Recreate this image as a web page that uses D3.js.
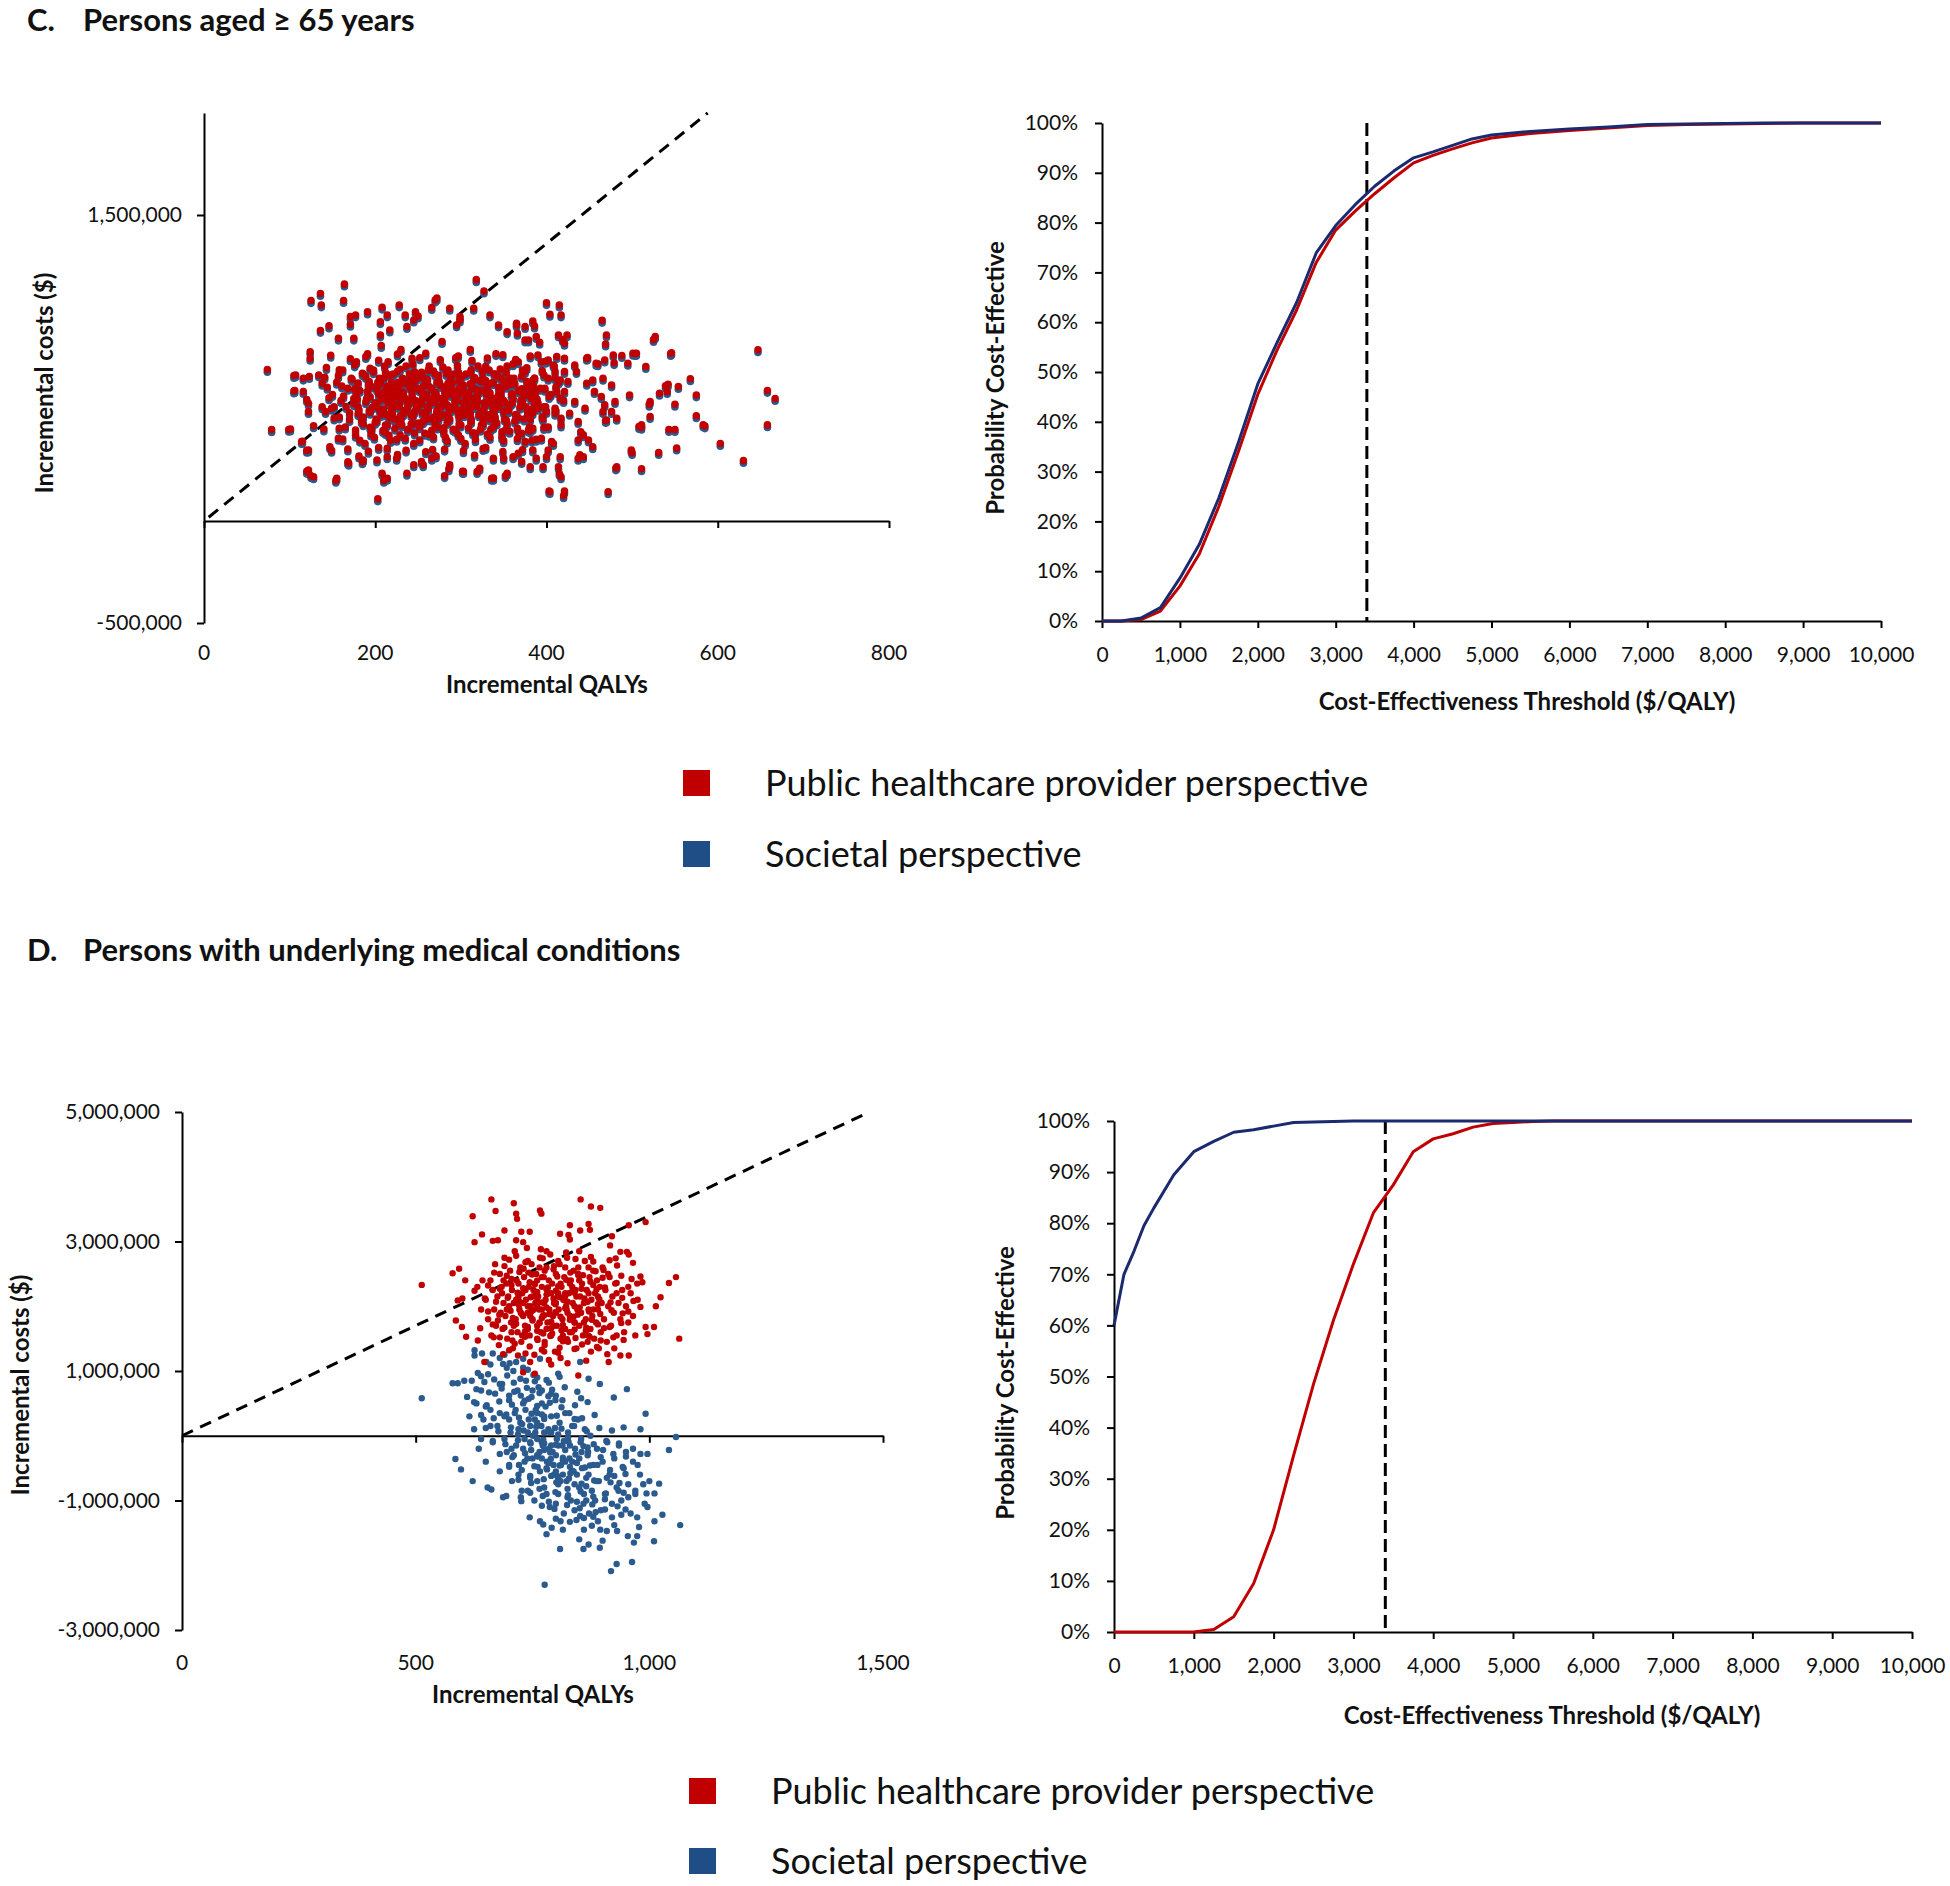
<!DOCTYPE html>
<html><head><meta charset="utf-8">
<script src="https://cdn.jsdelivr.net/npm/d3@7"></script>
<style>
body{margin:0;background:#fff}
svg{display:block}
text{font-family:Lato,'Open Sans',sans-serif;fill:#111}
</style>
</head><body>
<svg id="chart" width="1950" height="1886"></svg>
<script>
// ---------------- DATA ----------------
const wtpThreshold = 3400;
const seriesNames = ["Public healthcare provider perspective", "Societal perspective"];
const panelTitles = [["C.", "Persons aged \u2265 65 years"], ["D.", "Persons with underlying medical conditions"]];

// Panel C scatter: [incremental QALYs, public cost ($000), societal cost ($000)]
const cScatter = [
[74,742,729],[79,448,434],[99,448,436],[105,713,700],[106,640,626],[115,391,378],[120,346,333],[120,244,230],[125,222,209],[120,595,582],[123,708,695],[125,1081,1067],[136,1115,1102],[136,934,921],[146,957,943],[154,199,186],[149,346,333],[164,1161,1148],[163,1081,1068],[168,290,276],[171,1002,989],[185,290,277],[191,1025,1011],[203,109,95],[208,1048,1035],[210,199,186],[228,1059,1046],[247,1025,1012],[272,1093,1079],[281,222,209],[286,256,243],[302,244,230],[318,1183,1169],[327,1127,1114],[299,1002,989],[338,210,196],[352,222,209],[384,980,967],[400,1070,1057],[415,1059,1045],[419,889,876],[403,147,134],[420,124,110],[415,233,220],[439,324,311],[440,437,424],[465,984,970],[469,867,854],[472,143,130],[469,493,480],[479,776,763],[481,260,247],[500,335,322],[504,821,808],[497,618,605],[511,256,243],[511,459,446],[520,572,559],[525,889,876],[531,335,322],[539,663,650],[545,821,808],[543,448,435],[550,448,435],[552,357,344],[550,572,559],[568,697,684],[575,618,605],[575,516,503],[583,471,458],[603,380,367],[630,296,283],[647,839,826],[658,640,627],[658,471,458],[667,600,587],
[417,1010,997],[404,1013,1000],[470,912,899],[527,904,891],[546,825,812],[585,466,453],[499,348,335],[482,266,253],[421,147,134],[404,144,131],[542,670,657],[554,659,646],[521,585,572],[521,512,499],[511,472,459],[508,463,450],[495,773,760],[501,822,809],[505,822,809],[488,811,798],[478,814,801],[468,789,776],[460,770,757],[448,801,788],[516,757,744],[541,634,621],[532,626,613],
[365,969,956],[366,920,907],[375,953,940],[375,887,874],[379,887,874],[386,956,943],[388,904,891],[392,876,863],[367,781,768],[390,814,801],[394,781,768],[402,789,776],[408,765,752],[414,912,899],[424,912,899],[421,871,858],[421,797,784],[410,732,719],[421,732,719],[433,765,752],[435,732,719],[447,797,784],[458,773,760],[425,683,670],[416,691,678],[402,699,686],[386,699,686],[375,732,719],[369,634,621],[381,626,613],[386,642,629],[398,650,637],[412,634,621],[421,634,621],[433,585,572],[445,552,539],[447,675,662],[454,691,678],[456,634,621],[466,699,686],[476,667,654],[464,610,597],[468,569,556],[466,536,523],[476,536,523],[480,585,572],[482,503,490],[470,495,482],[371,569,556],[381,536,523],[390,552,539],[400,536,523],[410,528,515],[417,503,490],[427,528,515],[437,487,474],[443,422,409],[437,397,384],[449,397,384],[454,364,351],[443,315,302],[437,307,294],[416,315,302],[414,266,253],[417,217,204],[400,315,302],[402,348,335],[406,389,376],[394,405,392],[384,454,441],[379,446,433],[371,430,417],[375,389,376],[384,348,335],[388,307,294],[381,266,253],[396,266,253],[367,332,319],[371,291,278],
[137,1059,1046],[270,1083,1070],[266,1046,1033],[287,1043,1030],[315,1043,1030],[214,1010,997],[235,1010,997],[250,1005,992],[177,1010,997],[171,964,951],[206,977,964],[206,912,899],[217,936,923],[237,953,940],[245,985,972],[299,985,972],[295,961,948],[334,1010,997],[344,961,948],[354,928,915],[365,961,948],[157,896,883],[175,896,883],[124,830,817],[124,797,784],[107,716,703],[116,700,687],[105,637,624],[116,634,621],[134,716,703],[138,675,662],[122,577,564],[122,536,523],[138,560,547],[142,536,523],[101,451,438],[128,467,454],[140,451,438],[114,389,376],[122,348,335],[147,364,351],[157,405,392],[122,250,237],[128,217,204],[155,209,196],[169,283,270],[186,299,286],[202,299,286],[214,315,302],[208,234,221],[214,209,196],[225,307,294],[237,234,221],[245,275,262],[256,275,262],[254,291,278],[266,307,294],[287,275,262],[303,242,229],[319,242,229],[322,258,245],[336,209,196],[354,234,221],[350,307,294],[338,307,294],
[150,620,607],[152,560,547],[155,680,667],[158,510,497],[160,590,577],[162,740,727],[165,460,447],[168,650,637],[170,530,517],[172,700,687],[175,600,587],[177,420,407],[178,780,767],[180,560,547],[182,640,627],[184,490,477],[186,720,707],[188,380,367],[190,600,587],[191,820,807],[193,540,527],[195,660,647],[196,450,437],[198,740,727],[200,580,567],[201,500,487],[203,680,667],[204,360,347],[206,620,607],[207,860,847],[209,540,527],[210,700,687],[212,470,457],[213,600,587],[215,780,767],[216,420,407],[218,650,637],[219,550,537],[221,720,707],[222,500,487],[224,610,597],[225,400,387],[227,680,667],[228,560,547],[230,840,827],[231,470,457],[233,630,617],[234,540,527],[236,760,747],[237,590,577],[239,450,437],[240,690,677],[242,520,507],[243,610,597],[245,380,367],[246,730,717],[248,560,547],[249,650,637],[251,480,467],[252,800,787],[254,590,577],[255,530,517],[257,700,687],[258,430,417],[260,620,607],[261,560,547],[263,760,747],[264,500,487],[266,650,637],[267,350,337],[269,590,577],[270,720,707],[272,540,527],[273,460,447],[275,680,667],[276,600,587],[278,880,867],[279,520,507],[281,640,627],[282,410,397],[284,570,557],[285,740,727],[287,500,487],[288,620,607],[290,680,667],[291,450,437],[293,560,547],[294,800,787],[296,610,597],[297,530,517],[299,700,687],[300,470,457],[302,650,637],[303,580,567],[305,380,367],[306,720,707],[308,540,527],[309,630,617],[311,840,827],[312,490,477],[314,600,587],[315,690,677],[317,430,417],[318,560,547],[320,760,747],[321,520,507],[323,640,627],[324,470,457],[326,700,687],[327,580,567],[329,360,347],[330,620,607],[332,520,507],[333,740,727],[335,450,437],[336,600,587],[338,680,667],[339,540,527],[341,820,807],[342,480,467],[344,620,607],[345,560,547],[347,700,687],[348,410,397],[350,590,577],[351,500,487],[353,660,647],[354,760,747],[356,540,527],[357,440,427],[359,620,607],[360,580,567],[362,700,687],[363,490,477],[365,520,507],[367,640,627],[368,430,417],[370,590,577],[372,740,727],[374,500,487],[376,560,547],[378,660,647],[380,460,447],[382,600,587],[384,530,517],[386,700,687],[388,400,387],[390,580,567],[393,650,637],[396,500,487],[399,560,547],[402,460,447],[405,620,607],[408,380,367],[411,540,527],[414,680,667],[417,470,457],[420,590,577],
[205,545,532],[211,635,622],[217,590,577],[223,665,652],[229,515,502],[235,600,587],[241,655,642],[247,590,577],[253,640,627],[259,505,492],[265,580,567],[271,625,612],[277,560,547],[283,660,647],[289,545,532],[295,590,577],[301,625,612],[307,575,562],[313,655,642],[319,600,587],[325,540,527],[331,675,662],[337,565,552],[220,580,567],[232,700,687],[244,475,462],[256,660,647],[268,510,497],[280,600,587],[292,720,707],[304,520,507],[316,580,567],[328,640,627],[340,600,587],[214,520,507],[226,630,617],[238,560,547],[250,700,687],[262,600,587],[274,500,487],[286,560,547],[298,650,637],[310,610,597],[322,690,677],[334,500,487],[346,650,637],[352,580,567],[358,700,687],
[148,812,799],[171,795,782],[189,806,793],[204,788,775],[226,818,805],[243,797,784],[259,822,809],[276,790,777],[297,809,796],[313,786,773],[331,799,786],[349,815,802],[364,792,779],[381,808,795],[399,783,770],[412,806,793],
[143,752,739],[158,741,728],[176,765,752],[194,748,735],[211,759,746],[229,744,731],[244,768,755],[262,739,726],[279,755,742],[296,762,749],[312,741,728],[329,758,745],[346,745,732],[361,770,757],[377,751,738],[395,738,725],[409,760,747],
[141,705,692],[157,712,699],[173,694,681],[189,708,695],[205,699,686],[217,716,703],[232,691,678],[247,707,694],[261,695,682],[274,713,700],[288,698,685],[301,710,697],[316,703,690],[329,689,676],[343,712,699],[357,696,683],[371,709,696],[384,690,677],[397,715,702],[410,702,689],
[144,655,642],[161,662,649],[176,648,635],[192,668,655],[202,646,633],[214,660,647],[227,652,639],[239,667,654],[251,645,632],[263,659,646],[276,664,651],[289,650,637],[303,666,653],[317,647,634],[331,661,648],[344,655,642],[358,669,656],[371,648,635],[385,662,649],[398,645,632],[411,657,644],
[146,604,591],[163,612,599],[179,598,585],[194,609,596],[207,595,582],[219,611,598],[231,601,588],[244,596,583],[256,613,600],[268,603,590],[281,596,583],[293,611,598],[306,599,586],[319,614,601],[333,597,584],[347,608,595],[361,601,588],[374,614,601],[389,597,584],[403,610,597],[416,602,589],
[149,552,539],[166,561,548],[181,545,532],[197,558,545],[210,549,536],[223,563,550],[236,546,533],[249,556,543],[262,548,535],[274,561,548],[287,553,540],[300,545,532],[313,559,546],[327,551,538],[341,564,551],[355,547,534],[369,557,544],[383,549,536],[397,560,547],[410,553,540],
[152,505,492],[170,497,484],[186,510,497],[202,493,480],[217,507,494],[230,499,486],[244,511,498],[258,496,483],[271,506,493],[285,494,481],[298,509,496],[312,501,488],[326,497,484],[340,510,497],[353,495,482],[367,507,494],[381,499,486],[395,511,498],
[158,455,442],[177,446,433],[194,459,446],[209,443,430],[223,455,442],[238,448,435],[252,461,448],[266,445,432],[280,457,444],[294,443,430],[309,456,443],[323,449,436],[338,460,447],[352,446,433],[366,455,442],[381,442,429],[397,458,445],
[162,402,389],[182,396,383],[199,410,397],[218,394,381],[235,405,392],[252,397,384],[268,411,398],[284,392,379],[300,404,391],[317,398,385],[334,409,396],[350,393,380],[366,403,390],[383,396,383],
[168,353,340],[192,342,329],[214,356,343],[236,347,334],[259,339,326],[281,352,339],[303,344,331],[326,355,342],[349,341,328],[372,349,336],
[181,318,305],[226,326,313],[271,318,305],[316,322,309],[361,315,302],
[185,724,711],[198,731,718],[212,727,714],[226,734,721],[240,722,709],[254,729,716],[268,735,722],[283,723,710],[297,730,717],[311,726,713],[325,733,720],[339,721,708],[353,728,715],
[180,676,663],[193,683,670],[206,671,658],[219,680,667],[233,674,661],[246,685,672],[259,672,659],[272,681,668],[285,675,662],[298,686,673],[311,673,660],[324,682,669],[337,677,664],[350,688,675],[363,672,659],[377,684,671],
[178,627,614],[191,634,621],[204,622,609],[218,631,618],[231,625,612],[243,636,623],[256,623,610],[269,632,619],[282,626,613],[295,637,624],[308,624,611],[321,633,620],[334,628,615],[347,636,623],[360,623,610],[373,631,618],[387,626,613],
[175,576,563],[189,584,571],[202,572,559],[215,581,568],[228,575,562],[241,586,573],[254,573,560],[267,582,569],[280,576,563],[293,587,574],[306,574,561],[319,583,570],[332,578,565],[345,585,572],[358,572,559],[372,581,568],[386,576,563],
[180,526,513],[194,533,520],[207,522,509],[220,531,518],[233,525,512],[246,536,523],[259,523,510],[272,532,519],[285,526,513],[298,537,524],[311,524,511],[324,533,520],[337,528,515],[350,535,522],[364,522,509],[378,531,518],
[186,476,463],[200,483,470],[214,472,459],[228,481,468],[242,475,462],[256,486,473],[270,473,460],[284,482,469],[298,476,463],[312,487,474],[326,474,461],[340,483,470],[354,478,465],
[195,426,413],[212,433,420],[229,422,409],[246,431,418],[263,425,412],[280,436,423],[297,423,410],[314,432,419],[331,426,413],[348,437,424]
];

// Panel D scatter: [incremental QALYs, incremental cost ($ millions)]
const dPublic = [
[513,2.33],[662,3.65],[710,3.59],[671,3.47],[622,3.39],[853,3.65],[875,3.54],[895,3.52],[766,3.48],[769,3.43],[715,3.43],[717,3.35],[830,3.25],[852,3.17],[870,3.27],[873,3.18],[992,3.30],[956,3.25],[809,3.12],[726,3.15],[744,3.15],[690,3.17],[642,3.11],[626,2.99],[676,3.02],[665,3.01],[715,3.02],[730,2.99],[830,3.03],[827,3.10],[920,3.08],[916,2.94],[938,2.84],[952,2.84],[956,2.80],[965,2.67],[931,2.63],[593,2.58],[579,2.51],[606,2.40],[643,2.40],[626,2.24],[600,2.12],[590,2.09],[586,1.78],[599,1.68],[608,1.53],[633,1.47],[667,1.52],[687,1.26],[647,1.14],[719,1.24],[730,0.98],[755,0.96],[848,0.93],[913,1.14],[938,1.24],[956,1.24],[996,1.57],[1010,1.68],[992,1.68],[1024,2.14],[1042,2.36],[1057,2.45],[1064,1.50],[1014,2.00],[981,1.99],[981,2.46],[985,2.37],[974,2.35],
[650,2.10],[655,1.80],[660,2.40],[662,1.55],[665,2.25],[668,1.95],[670,2.65],[672,1.70],[675,2.15],[678,1.40],[680,2.50],[682,1.90],[684,2.30],[686,1.65],[688,2.05],[690,2.75],[692,1.85],[694,2.35],[696,1.50],[698,2.15],[700,1.95],[702,2.55],[704,1.75],[706,2.25],[708,1.35],[710,2.05],[712,2.85],[714,1.80],[716,2.40],[718,1.60],[720,2.15],[722,1.95],[724,2.60],[726,1.45],[728,2.20],[730,1.85],[732,2.45],[734,1.70],[736,2.10],[738,2.90],[740,1.90],[742,2.30],[744,1.55],[746,2.00],[748,2.65],[750,1.80],[752,2.25],[754,1.25],[756,2.05],[758,2.50],[760,1.70],[762,2.15],[764,1.95],[766,2.75],[768,1.60],[770,2.30],[772,1.85],[774,2.45],[776,1.40],[778,2.10],[780,2.60],[782,1.75],[784,2.20],[786,1.95],[788,2.80],[790,1.55],[792,2.35],[794,1.85],[796,2.05],[798,1.30],[800,2.50],[802,1.70],[804,2.15],[806,1.95],[808,2.65],[810,1.50],[812,2.30],[814,1.80],[816,2.10],[818,2.45],[820,1.65],[822,2.00],[824,2.75],[826,1.45],[828,2.20],[830,1.85],[832,2.40],[834,1.60],[836,2.05],[838,2.55],[840,1.75],[842,2.25],[844,1.35],[846,1.95],[848,2.60],[850,1.70],[852,2.15],[854,1.90],[856,2.35],[858,1.55],[860,2.05],[862,2.70],[864,1.80],[866,2.25],[868,1.45],[870,1.95],[872,2.45],[874,1.65],[876,2.10],[878,1.85],[880,2.55],[882,1.50],[884,2.20],[886,1.75],[888,2.40],[890,1.95],[892,1.35],[894,2.30],[896,1.60],[898,2.05],[900,2.60],[903,1.80],[906,2.25],[909,1.45],[912,2.00],[915,2.45],[918,1.70],[921,2.15],[924,1.90],[927,2.35],[930,1.55],[934,2.05],[938,1.80],[942,2.25],[946,1.60],[950,2.00],[955,1.75],[960,2.20],[965,1.85],[970,1.55],[975,2.10],
[700,2.00],[710,1.70],[720,2.35],[730,2.05],[740,1.65],[750,2.15],[760,2.40],[770,1.95],[780,1.65],[790,2.20],[800,1.90],[810,2.35],[820,2.20],[830,1.60],[840,2.00],[850,2.40],[860,1.75],[870,2.20],[880,1.95],[890,2.15],[745,1.85],[755,2.35],[765,1.75],[775,2.05],[785,2.40],[795,1.70],[805,2.20],[815,1.55],[825,1.90],[835,2.30],[725,1.90],[735,2.25],[715,2.10],[705,1.60],[695,1.95],[685,2.20],[760,1.50],[775,1.30],[790,1.10],[810,1.20],[765,2.60],[780,2.85],[740,2.70],[820,2.60],[850,2.85],[870,2.60],
[700,2.72],[735,2.68],[772,2.74],[805,2.70],[842,2.73],[880,2.69],[915,2.71],
[668,2.52],[695,2.47],[722,2.53],[749,2.49],[776,2.55],[803,2.46],[831,2.52],[858,2.48],[885,2.54],[912,2.50],[940,2.47],
[655,2.32],[680,2.27],[705,2.33],[730,2.28],[755,2.34],[780,2.26],[805,2.31],[830,2.35],[855,2.27],[880,2.33],[905,2.29],[930,2.36],[955,2.30],
[648,2.12],[672,2.07],[697,2.13],[721,2.08],[746,2.14],[770,2.06],[795,2.12],[819,2.09],[844,2.15],[868,2.07],[893,2.11],[917,2.06],[942,2.13],[966,2.08],
[655,1.92],[679,1.87],[703,1.93],[727,1.88],[751,1.94],[775,1.86],[799,1.91],[823,1.95],[847,1.87],[871,1.92],[895,1.88],[919,1.94],[943,1.89],
[665,1.72],[690,1.67],[715,1.73],[740,1.68],[765,1.74],[790,1.66],[815,1.71],[840,1.75],[865,1.67],[890,1.72],[915,1.68],[940,1.74],
[680,1.52],[707,1.47],[734,1.53],[761,1.48],[788,1.54],[815,1.46],[842,1.51],[869,1.55],[896,1.47],[923,1.52],
[700,1.32],[735,1.27],[770,1.33],[805,1.28],[840,1.34],[875,1.30],[910,1.26],
[745,1.14],[785,1.17],[825,1.12],[865,1.16],
[740,2.00],[760,2.08],[780,1.98],[800,2.05],[820,1.97],[750,1.78],[770,1.82],[790,1.76],[810,1.84],[830,1.79],[760,2.22],[780,2.18],[800,2.24],[820,2.16],[840,2.21],
[705,2.42],[718,2.21],[731,2.58],[744,2.37],[757,2.18],[770,2.45],[783,2.29],[796,2.62],[809,2.14],[822,2.41],[835,2.23],[848,2.48],[861,2.12],[874,2.38],[887,2.26],[900,2.44],
[708,1.82],[721,2.02],[734,1.61],[747,1.92],[760,2.00],[773,1.58],[786,1.88],[799,2.03],[812,1.63],[825,2.07],[838,1.84],[851,1.98],[864,1.62],[877,1.79],[890,2.03],[903,1.66],
[712,1.42],[728,1.55],[744,1.38],[760,1.62],[776,1.45],[792,1.58],[808,1.36],[824,1.49],[840,1.64],[856,1.41],[872,1.53],[888,1.37],
[690,2.62],[715,2.78],[742,2.52],[768,2.88],[795,2.57],[822,2.83],[848,2.50],[875,2.76],[902,2.56],[928,2.74],
[676,1.78],[688,2.40],[955,1.92],[962,2.42],[930,2.20],[945,1.48],[925,1.35],[640,1.95],[632,2.30],[638,1.66]
];
const dSocietal = [
[513,0.58],[579,0.81],[590,0.81],[604,0.85],[626,1.32],[626,1.24],[642,1.27],[651,1.14],[665,1.27],[633,0.97],[647,0.83],[687,1.11],[701,1.12],[715,1.14],[730,1.19],[766,1.19],[805,0.96],[852,1.14],[870,0.88],[894,0.80],[924,0.59],[952,0.72],[992,0.34],[981,0.10],[1057,-0.02],[1042,-0.22],[945,0.13],[585,-0.36],[597,-0.52],[622,-0.70],[654,-0.80],[662,-0.83],[687,-0.95],[694,-0.93],[726,-1.01],[744,-1.26],[773,-1.37],[780,-1.52],[809,-1.75],[776,-2.30],[850,-1.60],[859,-1.75],[870,-1.68],[894,-1.73],[918,-2.09],[930,-1.98],[963,-1.95],[909,-1.47],[931,-1.47],[954,-1.55],[974,-1.55],[967,-1.65],[1010,-1.63],[978,-1.41],[949,-1.14],[974,-1.26],[1011,-1.32],[1028,-1.22],[1066,-1.38],[996,-1.10],[994,-0.89],[1021,-0.74],[1011,-0.89],[981,-0.28],[996,-0.28],[949,-0.59],[987,-0.75],[970,-0.85],[917,-0.72],[895,-1.45],[877,-1.39],[852,-1.24],[810,-1.32],[791,-1.42],[766,-1.32],
[610,0.60],[615,0.30],[620,0.85],[625,0.10],[630,0.50],[635,-0.20],[640,0.70],[645,0.25],[650,-0.40],[655,0.95],[660,0.40],[665,-0.10],[670,0.65],[675,0.15],[680,-0.55],[685,0.80],[690,0.30],[695,-0.25],[700,0.55],[703,0.05],[706,-0.70],[709,1.00],[712,0.35],[715,-0.15],[718,0.70],[721,-0.45],[724,0.20],[727,-0.85],[730,0.50],[733,-0.05],[736,0.85],[739,-0.35],[742,0.25],[745,-0.65],[748,0.60],[751,0.00],[754,-1.00],[757,0.40],[760,-0.30],[763,0.75],[766,-0.55],[769,0.15],[772,-0.15],[775,-0.80],[778,0.45],[781,-0.40],[784,0.10],[787,-1.10],[790,0.30],[793,-0.25],[796,-0.60],[799,0.55],[802,-0.05],[805,-0.90],[808,0.20],[811,-0.45],[814,-0.15],[817,-1.20],[820,0.35],[823,-0.70],[826,0.05],[829,-0.35],[832,-1.00],[835,0.15],[838,-0.55],[841,-0.20],[844,-1.30],[847,0.25],[850,-0.80],[853,-0.10],[856,-0.50],[859,-1.05],[862,0.10],[865,-0.65],[868,-0.30],[871,-1.20],[874,0.00],[877,-0.85],[880,-0.45],[884,-1.00],[888,-0.20],[892,-0.70],[896,-1.15],[900,-0.40],[905,-0.90],[910,-0.10],[915,-0.60],[920,-1.05],[925,-0.35],[930,-0.80],[935,-0.15],[940,-1.00],[945,-0.50],[950,-0.25],[955,-0.75],[960,-1.20],[965,-0.40],[970,-0.90],[980,-0.60],[990,-1.05],[1000,-0.70],
[720,0.10],[730,-0.20],[740,0.05],[750,-0.35],[760,0.20],[770,-0.10],[780,-0.50],[790,0.05],[800,-0.30],[810,-0.70],[820,-0.40],[830,-0.15],[840,-0.75],[850,-0.35],[860,-0.90],[870,-0.60],[735,0.40],[745,-0.10],[755,0.25],[765,-0.25],[775,0.30],[785,-0.20],[795,-0.45],[805,-0.15],[815,-0.60],[825,-0.95],[835,-0.40],[845,-0.60],[855,-0.25],[865,-1.00],[760,-0.70],[780,-0.90],[800,-1.05],[770,0.50],[790,0.65],[750,0.70],[700,0.25],[690,-0.05],[710,-0.30],[680,0.35],[660,0.15],[650,0.45],[640,-0.05],[700,-0.45],[720,-0.60],[740,-0.85],[760,0.90],[730,1.05],[660,1.10],[680,1.20],[690,1.25],
[640,0.92],[668,0.87],[696,0.93],[724,0.88],[752,0.94],[780,0.86],[808,0.91],
[630,0.72],[657,0.67],[684,0.73],[711,0.68],[738,0.74],[765,0.66],[792,0.71],[819,0.75],[846,0.68],
[625,0.52],[652,0.47],[679,0.53],[706,0.48],[733,0.54],[760,0.46],[787,0.51],[814,0.55],[841,0.47],[868,0.52],
[640,0.32],[667,0.27],[694,0.33],[721,0.28],[748,0.34],[775,0.26],[802,0.31],[829,0.35],[856,0.27],[883,0.32],
[650,0.12],[677,0.07],[704,0.13],[731,0.08],[758,0.14],[785,0.06],[812,0.11],[839,0.15],[866,0.07],[893,0.12],[920,0.08],
[665,-0.08],[692,-0.13],[719,-0.07],[746,-0.12],[773,-0.06],[800,-0.14],[827,-0.09],[854,-0.05],[881,-0.13],[908,-0.08],[935,-0.12],
[680,-0.28],[707,-0.33],[734,-0.27],[761,-0.32],[788,-0.26],[815,-0.34],[842,-0.29],[869,-0.25],[896,-0.33],[923,-0.28],[950,-0.32],
[700,-0.48],[727,-0.53],[754,-0.47],[781,-0.52],[808,-0.46],[835,-0.54],[862,-0.49],[889,-0.45],[916,-0.53],[943,-0.48],
[720,-0.68],[747,-0.73],[774,-0.67],[801,-0.72],[828,-0.66],[855,-0.74],[882,-0.69],[909,-0.65],[936,-0.73],
[745,-0.88],[772,-0.93],[799,-0.87],[826,-0.92],[853,-0.86],[880,-0.94],[907,-0.89],[934,-0.85],
[770,-1.08],[797,-1.13],[824,-1.07],[851,-1.12],[878,-1.06],[905,-1.14],[932,-1.09],
[800,-1.28],[830,-1.33],[860,-1.27],[890,-1.32],[920,-1.26],
[760,-0.05],[775,0.05],[790,-0.15],[805,0.02],[820,-0.22],[770,-0.35],[785,-0.42],[800,-0.55],[815,-0.38],[830,-0.48],[745,0.15],[760,0.35],[775,-0.22],[790,-0.62],[805,-0.75],
[700,0.62],[714,0.40],[728,0.18],[742,0.57],[756,0.05],[770,0.33],[784,0.61],[798,0.12],[812,0.44],[826,-0.03],[840,0.26],[854,0.58],[868,-0.18],
[705,-0.20],[719,0.02],[733,-0.40],[747,-0.22],[761,-0.48],[775,-0.12],[789,-0.36],[803,-0.62],[817,-0.08],[831,-0.58],[845,-0.42],[859,-0.16],[873,-0.46],[887,-0.70],[901,-0.22],
[725,-0.95],[745,-0.62],[765,-0.82],[785,-1.02],[805,-0.66],[825,-0.82],[845,-1.02],[865,-0.78],[885,-1.18],[905,-0.98],[925,-0.62],[945,-0.88],
[680,0.80],[695,1.05],[710,0.82],[725,0.62],[740,1.02],[755,0.84],[770,0.70],[785,0.82],[800,0.62],
[815,-1.45],[840,-1.15],[860,-1.45],[880,-1.25],[900,-1.62],[925,-1.38],[940,-1.22],[955,-0.95],[965,-0.20],[975,-0.45]
];

// CEAC data (probability cost-effective, %)
const cThresholds = [0,250,500,750,1000,1250,1500,1750,2000,2250,2500,2750,3000,3250,3500,3750,4000,4250,4500,4750,5000,5500,6000,6500,7000,7500,8000,8500,9000,9500,10000];
const cCeacPublic = [0,0,0.3,2,7,13.5,23,34,45.5,54.5,62.5,72,78.5,82.3,85.8,89,92,93.5,94.8,96,97,97.9,98.5,99,99.5,99.7,99.8,99.9,100,100,100];
const cCeacSocietal = [0,0,0.6,2.7,8.6,15.4,24.7,35.8,47.6,56,64,73.9,79.4,83.6,87.3,90.4,93,94.2,95.5,96.8,97.6,98.3,98.8,99.2,99.7,99.8,99.9,100,100,100,100];
const dThresholds = [0,125,250,375,500,750,1000,1250,1500,1750,2000,2250,2500,2750,3000,3250,3500,3750,4000,4250,4500,4750,5000,5250,5500,6000,7000,8000,9000,10000];
const dCeacPublic = [0,0,0,0,0,0,0,0.5,3,9.5,20,34.5,48.5,61,72,82,87.5,94,96.5,97.5,98.8,99.5,99.7,99.9,100,100,100,100,100,100];
const dCeacSocietal = [60,70,74.5,79.5,83,89.5,94,96,97.8,98.3,99,99.7,99.8,99.9,100,100,100,100,100,100,100,100,100,100,100,100,100,100,100,100];

// Tick values
const cScatterXTicks = [0,200,400,600,800];
const cScatterYTicks = [-500000,1500000];
const dScatterXTicks = [0,500,1000,1500];
const dScatterYTicks = [-3000000,-1000000,1000000,3000000,5000000];
const ceacXTicks = [0,1000,2000,3000,4000,5000,6000,7000,8000,9000,10000];
const ceacYTicks = [0,0.1,0.2,0.3,0.4,0.5,0.6,0.7,0.8,0.9,1.0];

// ---------------- STYLE ----------------
const RED = "#C00000";
const DOT_BLUE = "#2A5A8E";
const LINE_BLUE = "#1B2A6E";
const LEG_BLUE = "#1F4E87";
const TICK_FONT = 21;
const numFmt = v => d3.format(",")(v).replace("\u2212","-");

const svg = d3.select("#chart");
svg.append("rect").attr("width",1950).attr("height",1886).attr("fill","#fff");

function styleAxis(g){
  g.select(".domain").attr("stroke","#000").attr("stroke-width",2);
  g.selectAll(".tick line").attr("stroke","#000").attr("stroke-width",2);
  g.selectAll(".tick text").attr("font-family","Lato,'Open Sans',sans-serif").attr("font-size",TICK_FONT).attr("fill","#111");
}

function rotTitle(x,y,txt){
  svg.append("text").attr("transform",`translate(${x},${y}) rotate(-90)`)
    .attr("text-anchor","middle").attr("dy","0.35em")
    .attr("font-weight","bold").attr("font-size",24)
    .text(txt);
}
function boldTitle(x,y,txt){
  svg.append("text").attr("x",x).attr("y",y).attr("text-anchor","middle")
    .attr("font-weight","bold").attr("font-size",24).text(txt);
}

function scatter(o){
  const x = d3.scaleLinear().domain(o.xDomain).range(o.xRange);
  const y = d3.scaleLinear().domain(o.yDomain).range(o.yRange);
  const g = svg.append("g");
  const xa = g.append("g").attr("transform",`translate(0,${y(0)})`)
    .call(d3.axisBottom(x).tickValues(o.xTicks).tickSize(7).tickSizeOuter(0).tickFormat(""));
  styleAxis(xa);
  g.append("g").selectAll("text").data(o.xTicks).join("text")
    .attr("x",d=>x(d)).attr("y",o.xLabelY).attr("dy","0.35em").attr("text-anchor","middle")
    .attr("font-size",TICK_FONT).text(numFmt);
  const ya = g.append("g").attr("transform",`translate(${x(0)},0)`)
    .call(d3.axisLeft(y).tickValues(o.yTicks).tickSize(7).tickSizeOuter(0).tickPadding(15).tickFormat(numFmt));
  styleAxis(ya);
  const yMax = o.yDomain[1];
  g.append("line").attr("x1",x(0)).attr("y1",y(0)).attr("x2",x(yMax/wtpThreshold)).attr("y2",y(yMax))
    .attr("stroke","#000").attr("stroke-width",3).attr("stroke-dasharray","12,8").attr("stroke-dashoffset",o.dashOffset||0);
  g.append("g").selectAll("circle").data(o.soc).join("circle")
    .attr("cx",d=>x(d[0])).attr("cy",d=>y(d[1])).attr("r",o.r).attr("fill",DOT_BLUE);
  g.append("g").selectAll("circle").data(o.pub).join("circle")
    .attr("cx",d=>x(d[0])).attr("cy",d=>y(d[1])).attr("r",o.r).attr("fill",RED);
  boldTitle(o.xTitle[0],o.xTitle[1],"Incremental QALYs");
  rotTitle(o.yTitle[0],o.yTitle[1],"Incremental costs ($)");
}

function ceac(o){
  const x = d3.scaleLinear().domain([0,10000]).range(o.xRange);
  const y = d3.scaleLinear().domain([0,1]).range(o.yRange);
  const g = svg.append("g");
  const xa = g.append("g").attr("transform",`translate(0,${o.yRange[0]})`)
    .call(d3.axisBottom(x).tickValues(ceacXTicks).tickSize(7).tickSizeOuter(0).tickPadding(19).tickFormat(d3.format(",")));
  styleAxis(xa);
  const ya = g.append("g").attr("transform",`translate(${o.xRange[0]},0)`)
    .call(d3.axisLeft(y).tickValues(ceacYTicks).tickSize(7).tickSizeOuter(0).tickPadding(17).tickFormat(d3.format(".0%")));
  styleAxis(ya);
  g.append("line").attr("x1",x(wtpThreshold)).attr("x2",x(wtpThreshold)).attr("y1",y(1)).attr("y2",y(0))
    .attr("stroke","#000").attr("stroke-width",3).attr("stroke-dasharray","13,6");
  const line = d3.line().x(d=>x(d[0])).y(d=>y(d[1]/100));
  const pub = o.th.map((t,i)=>[t,o.pub[i]]);
  const soc = o.th.map((t,i)=>[t,o.soc[i]]);
  [[pub,RED],[soc,LINE_BLUE]].forEach(([d,c])=>g.append("path").datum(d).attr("d",line).attr("fill","none")
    .attr("stroke",c).attr("stroke-width",3).attr("stroke-linejoin","round"));
  boldTitle(o.xTitle[0],o.xTitle[1],"Cost-Effectiveness Threshold ($/QALY)");
  rotTitle(o.yTitle[0],o.yTitle[1],"Probability Cost-Effective");
}

function legend(x,yTop,gap){
  const colors=[RED,LEG_BLUE];
  const g=svg.append("g");
  g.selectAll("rect").data(seriesNames).join("rect")
    .attr("x",x).attr("y",(d,i)=>yTop+i*gap).attr("width",27).attr("height",26).attr("fill",(d,i)=>colors[i]);
  g.selectAll("text").data(seriesNames).join("text")
    .attr("x",x+82).attr("y",(d,i)=>yTop+i*gap+26).attr("font-size",36).text(d=>d);
}

function panelTitle(y,t){
  svg.append("text").attr("x",27).attr("y",y).attr("font-weight","bold").attr("font-size",31).text(t[0]);
  svg.append("text").attr("x",83).attr("y",y).attr("font-weight","bold").attr("font-size",31).text(t[1]);
}

// ---------------- PANEL C ----------------
panelTitle(31, panelTitles[0]);
scatter({
  xDomain:[0,800], xRange:[204,889], yDomain:[-500000,2000000], yRange:[623,113],
  xTicks:cScatterXTicks, yTicks:cScatterYTicks, xLabelY:653,
  pub:cScatter.map(d=>[d[0],d[1]*1000]), soc:cScatter.map(d=>[d[0],d[2]*1000]),
  r:3.8, xTitle:[547,693], yTitle:[45,383], dashOffset:14
});
ceac({xRange:[1102,1881], yRange:[621,123], th:cThresholds, pub:cCeacPublic, soc:cCeacSocietal,
  xTitle:[1527,710], yTitle:[996,378]});
legend(683,770,71);

// ---------------- PANEL D ----------------
panelTitle(961, panelTitles[1]);
scatter({
  xDomain:[0,1500], xRange:[182,883], yDomain:[-3000000,5000000], yRange:[1630,1112],
  xTicks:dScatterXTicks, yTicks:dScatterYTicks, xLabelY:1663,
  pub:dPublic.map(d=>[d[0],d[1]*1e6]), soc:dSocietal.map(d=>[d[0],d[1]*1e6]),
  r:3.2, xTitle:[533,1703], yTitle:[21,1385], dashOffset:0
});
ceac({xRange:[1114,1912], yRange:[1632,1121], th:dThresholds, pub:dCeacPublic, soc:dCeacSocietal,
  xTitle:[1552,1724], yTitle:[1006,1383]});
legend(689,1778,70);
</script>
</body></html>
